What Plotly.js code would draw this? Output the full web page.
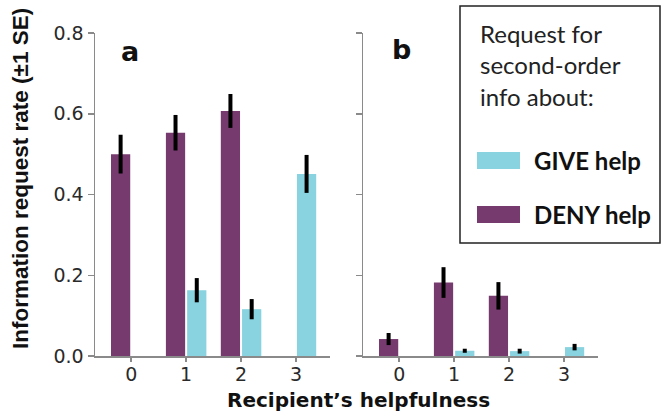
<!DOCTYPE html>
<html>
<head>
<meta charset="utf-8">
<script src="https://cdn.plot.ly/plotly-3.0.1.min.js"></script>
<style>html,body{margin:0;padding:0;background:#fff;}#chart{width:662px;height:418px;}</style>
</head>
<body>
<div id="chart"></div>
<script>
// Data
const categories = [0, 1, 2, 3];
const tickLabels = ["0", "1", "2", "3"];
// Panel a
const denyA = [0.50, 0.553, 0.607, null];
const denyAErr = [0.048, 0.044, 0.042, null];
const giveA = [null, 0.163, 0.116, 0.451];
const giveAErr = [null, 0.030, 0.025, 0.047];
// Panel b
const denyB = [0.042, 0.182, 0.149, null];
const denyBErr = [0.015, 0.038, 0.034, null];
const giveB = [null, 0.013, 0.012, 0.022];
const giveBErr = [null, 0.005, 0.006, 0.008];
const yTicks = [0, 0.2, 0.4, 0.6, 0.8];
const legendTitleLines = ["Request for", "second-order", "info about:"];

const purple = "#773a6f";
const cyan = "#88d3df";

function barTrace(y, err, color, name, xa, ya) {
  return {
    type: "bar", x: categories, y: y, name: name, xaxis: xa, yaxis: ya,
    marker: {color: color, line: {width: 0}},
    error_y: {type: "data", array: err, visible: true, color: "#000", thickness: 4, width: 0},
    showlegend: false, hoverinfo: "skip"
  };
}

const data = [
  barTrace(denyA, denyAErr, purple, "DENY help", "x", "y"),
  barTrace(giveA, giveAErr, cyan, "GIVE help", "x", "y"),
  barTrace(denyB, denyBErr, purple, "DENY help", "x2", "y2"),
  barTrace(giveB, giveBErr, cyan, "GIVE help", "x2", "y2")
];

const W = 662, H = 418;
const sansFam = "DejaVu Sans, Arial, sans-serif";
const arialFam = "Liberation Sans, Arial, sans-serif";
const tickFont = {family: sansFam, size: 19, color: "#2a2a2a"};
const axisCommon = {
  showgrid: false, zeroline: false, showline: true, linecolor: "#8a8a8a", linewidth: 1.5,
  ticks: "outside", tickcolor: "#8a8a8a", tickwidth: 1.5, fixedrange: true
};
const yDomain = [1 - 356 / H, 1 - 33 / H];

const legendAnnots = legendTitleLines.map((t, i) => ({
  text: t, xref: "paper", yref: "paper", x: 478 / W, y: 1 - (33 + 32 * i) / H,
  xanchor: "left", yanchor: "middle", showarrow: false,
  font: {family: "Lato, sans-serif", size: 24, color: "#222"}
}));

const layout = {
  width: W, height: H,
  margin: {l: 0, r: 0, t: 0, b: 0},
  paper_bgcolor: "#fff", plot_bgcolor: "#fff",
  barmode: "group", bargap: 0.226, bargroupgap: 0.095,
  xaxis: Object.assign({}, axisCommon, {
    domain: [95 / W, 330 / W], range: [-0.66, 3.62], anchor: "y",
    tickvals: categories, ticktext: tickLabels, ticklen: 4, tickfont: tickFont, ticklabelstandoff: -3
  }),
  yaxis: Object.assign({}, axisCommon, {
    domain: yDomain, range: [0, 0.8], anchor: "x",
    tickvals: yTicks, tickformat: ".1f", ticklen: 6, tickfont: tickFont
  }),
  xaxis2: Object.assign({}, axisCommon, {
    domain: [363 / W, 598 / W], range: [-0.66, 3.62], anchor: "y2",
    tickvals: categories, ticktext: tickLabels, ticklen: 4, tickfont: tickFont, ticklabelstandoff: -3
  }),
  yaxis2: Object.assign({}, axisCommon, {
    domain: yDomain, range: [0, 0.8], anchor: "x2",
    tickvals: yTicks, showticklabels: false, ticklen: 6
  }),
  shapes: [
    {type: "rect", xref: "paper", yref: "paper", x0: 460 / W, x1: 660 / W, y0: 1 - 243 / H, y1: 1 - 6 / H,
     line: {color: "#222", width: 1.5}, fillcolor: "rgba(0,0,0,0)"},
    {type: "rect", xref: "paper", yref: "paper", x0: 477 / W, x1: 520 / W, y0: 1 - 169 / H, y1: 1 - 152 / H,
     line: {width: 0}, fillcolor: cyan},
    {type: "rect", xref: "paper", yref: "paper", x0: 477 / W, x1: 520 / W, y0: 1 - 223 / H, y1: 1 - 206 / H,
     line: {width: 0}, fillcolor: purple}
  ],
  annotations: [
    {text: "<b>a</b>", xref: "paper", yref: "paper", x: 130 / W, y: 1 - 52 / H, xanchor: "center", yanchor: "middle",
     showarrow: false, font: {family: sansFam, size: 27, color: "#111"}},
    {text: "<b>b</b>", xref: "paper", yref: "paper", x: 401 / W, y: 1 - 50 / H, xanchor: "center", yanchor: "middle",
     showarrow: false, font: {family: sansFam, size: 27, color: "#111"}},
    {text: "<b>Recipient’s helpfulness</b>", xref: "paper", yref: "paper", x: 358 / W, y: 1 - 400 / H,
     xanchor: "center", yanchor: "middle", showarrow: false, font: {family: sansFam, size: 20, color: "#111"}},
    {text: "<b>Information request rate (±1 SE)</b>", xref: "paper", yref: "paper", x: 21 / W, y: 1 - 179 / H,
     xanchor: "center", yanchor: "middle", showarrow: false, textangle: -90,
     font: {family: arialFam, size: 22.5, color: "#111"}},
    ...legendAnnots,
    {text: "<b>GIVE help</b>", xref: "paper", yref: "paper", x: 532 / W, y: 1 - 160 / H,
     xanchor: "left", yanchor: "middle", showarrow: false, font: {family: "Lato, sans-serif", size: 24, color: "#111"}},
    {text: "<b>DENY help</b>", xref: "paper", yref: "paper", x: 532 / W, y: 1 - 214 / H,
     xanchor: "left", yanchor: "middle", showarrow: false, font: {family: "Lato, sans-serif", size: 24, color: "#111"}}
  ]
};

Plotly.newPlot("chart", data, layout, {displayModeBar: false, staticPlot: true});
</script>
</body>
</html>
